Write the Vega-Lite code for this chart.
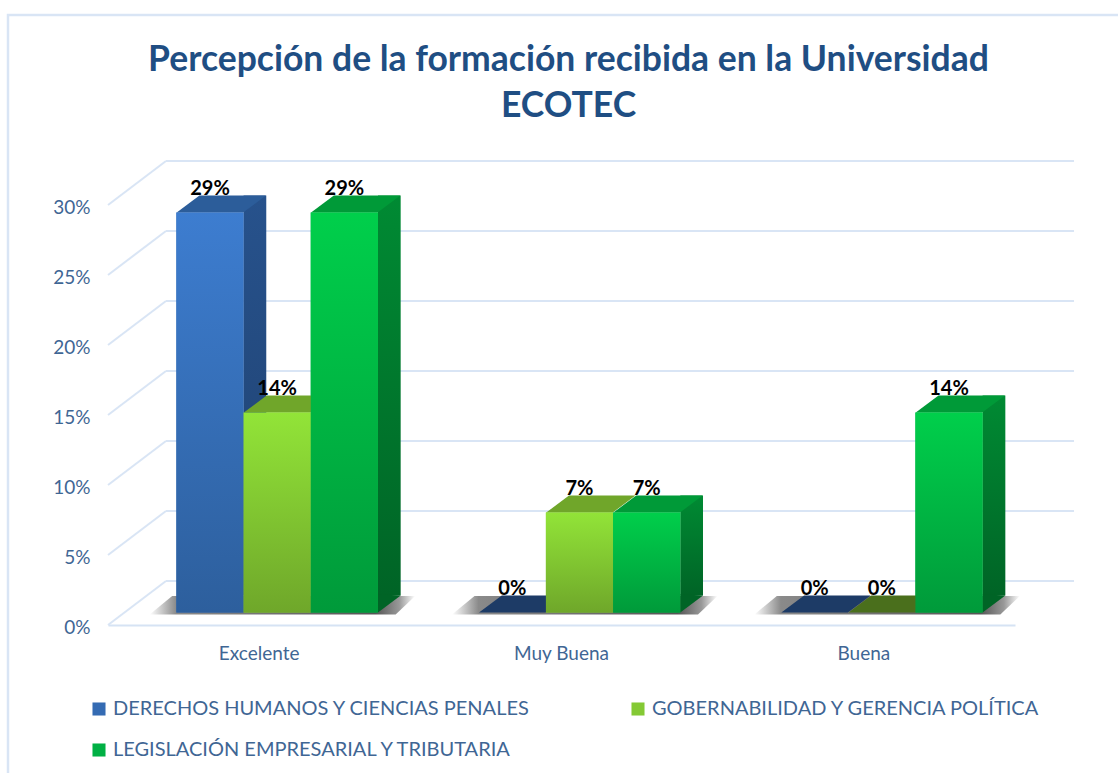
{"$schema":"https://vega.github.io/schema/vega-lite/v6.json","width":907,"height":420,"autosize":"none","padding":{"left":108,"top":205,"right":103,"bottom":148},"background":"#ffffff","view":{"stroke":null},
"title":{"text":["Percepción de la formación recibida en la Universidad","ECOTEC"],"font":"Lato","fontSize":35.5,"fontWeight":"bold","color":"#1f4e83","lineHeight":46,"anchor":"middle","frame":"group","dx":7,"offset":-114},
"datasets":{"bars":[
{"cat":"Excelente","serie":"DERECHOS HUMANOS Y CIENCIAS PENALES","v":0.2857},
{"cat":"Excelente","serie":"GOBERNABILIDAD Y GERENCIA POLÍTICA","v":0.1429},
{"cat":"Excelente","serie":"LEGISLACIÓN EMPRESARIAL Y TRIBUTARIA","v":0.2857},
{"cat":"Muy Buena","serie":"DERECHOS HUMANOS Y CIENCIAS PENALES","v":0},
{"cat":"Muy Buena","serie":"GOBERNABILIDAD Y GERENCIA POLÍTICA","v":0.0714},
{"cat":"Muy Buena","serie":"LEGISLACIÓN EMPRESARIAL Y TRIBUTARIA","v":0.0714},
{"cat":"Buena","serie":"DERECHOS HUMANOS Y CIENCIAS PENALES","v":0},
{"cat":"Buena","serie":"GOBERNABILIDAD Y GERENCIA POLÍTICA","v":0},
{"cat":"Buena","serie":"LEGISLACIÓN EMPRESARIAL Y TRIBUTARIA","v":0.1429}],
"grid":[{"t":0},{"t":0.05},{"t":0.1},{"t":0.15},{"t":0.2},{"t":0.25},{"t":0.3}]},
"data":{"name":"bars"},
"encoding":{
"x":{"field":"cat","type":"nominal","sort":null,"scale":{"domain":["Excelente","Muy Buena","Buena"],"paddingInner":0,"paddingOuter":0},"axis":{"title":null,"labelAngle":0,"labelFont":"Lato","labelFontSize":19,"labelColor":"#3f6694","labelPadding":19,"ticks":false,"domainColor":"#d6e3f4","domainWidth":2,"zindex":0}}
},
"layer":[
{"data":{"name":"grid"},"mark":{"type":"point","shape":"M0,0L1,0","size":3297856,"xOffset":58,"yOffset":-44,"stroke":"#d9e5f5","strokeWidth":2,"opacity":1},"encoding":{"x":{"datum":"Excelente","bandPosition":0},"y":{"field":"t","type":"quantitative","scale":{"domain":[0,0.3]},"axis":{"title":null,"format":".0%","values":[0,0.05,0.1,0.15,0.2,0.25,0.3],"domain":false,"ticks":false,"grid":false,"labelFont":"Lato","labelFontSize":19,"labelColor":"#3f6694","labelPadding":18,"labelOffset":2}}}},
{"data":{"name":"grid"},"mark":{"type":"point","shape":"M0,0L1,-0.7586","size":13456,"stroke":"#d9e5f5","strokeWidth":2,"opacity":1},"encoding":{"x":{"datum":"Excelente","bandPosition":0},"y":{"field":"t","type":"quantitative"}}},
{"data":{"name":"grid"},"transform":[{"filter":"datum.t==0.3"}],"mark":{"type":"point","shape":"M1.01,-0.19L-0.1,-0.19L-0.1,0.6","size":4000000,"stroke":"#d9e5f5","strokeWidth":2.5,"opacity":1},"encoding":{"x":{"datum":"Excelente","bandPosition":0},"y":{"field":"t","type":"quantitative"}}},
{"transform":[{"filter":"datum.serie[0]=='D'"}],"mark":{"type":"point","filled":true,"shape":"M-0.85,0.013L-0.7,-0.11L0.92,-0.11L0.79,0.013Z","size":90000,"xOffset":18,"yOffset":-12.5,"opacity":1,"fill":{"gradient":"linear","x1":0,"y1":0,"x2":1,"y2":0,"stops":[{"offset":0,"color":"#ffffff"},{"offset":0.1,"color":"#8a8a8a"},{"offset":0.85,"color":"#555555"},{"offset":0.94,"color":"#999999"},{"offset":1,"color":"#ffffff"}]}},"encoding":{"y":{"datum":0,"type":"quantitative"}}},
{"mark":{"type":"bar","yOffset":-12.5,"y2Offset":-12.5},"encoding":{"xOffset":{"field":"serie","type":"nominal","sort":null,"scale":{"domain":["DERECHOS HUMANOS Y CIENCIAS PENALES","GOBERNABILIDAD Y GERENCIA POLÍTICA","LEGISLACIÓN EMPRESARIAL Y TRIBUTARIA"],"paddingInner":0,"paddingOuter":0.75,"range":[18,320.3]}},"y":{"field":"v","type":"quantitative","stack":null},"y2":{"datum":0},"color":{"field":"serie","type":"nominal","sort":null,"scale":{"domain":["DERECHOS HUMANOS Y CIENCIAS PENALES","GOBERNABILIDAD Y GERENCIA POLÍTICA","LEGISLACIÓN EMPRESARIAL Y TRIBUTARIA"],"range":["#346bb3","#84c934","#00b044"]},"legend":{"title":null,"orient":"none","legendX":-19,"legendY":494,"direction":"horizontal","columns":2,"symbolType":"square","symbolSize":170,"symbolStrokeWidth":0,"labelFont":"Lato","labelFontSize":20,"labelColor":"#3f6694","labelLimit":600,"columnPadding":97,"rowPadding":21,"labelOffset":4}}}},

{"transform":[{"filter":"datum.serie[0]=='D' && datum.v>0"}],"mark":{"type":"bar","width":22.7,"xOffset":-4.25,"yOffset":-29.5,"y2Offset":-29.5,"fill":{"gradient":"linear","x1":0,"y1":0,"x2":0,"y2":1,"stops":[{"offset":0,"color":"#27528c"},{"offset":1,"color":"#1f4170"}]}},"encoding":{"y":{"field":"v","type":"quantitative","stack":null},"y2":{"datum":0}}},
{"transform":[{"filter":"datum.serie[0]=='D'"}],"mark":{"type":"point","filled":true,"opacity":1,"shape":"M-1,0.191L-0.4899,-0.191L1,-0.191L0.4899,0.191Z","size":7968,"xOffset":-37.85,"yOffset":-21},"encoding":{"y":{"field":"v","type":"quantitative"},"fill":{"condition":{"test":"datum.v==0","value":"#1d3b66"},"value":"#2c5d9a"}}},
{"transform":[{"filter":"datum.serie[0]=='D'"}],"mark":{"type":"bar","width":67.2,"xOffset":-49.2,"yOffset":-12.5,"y2Offset":-12.5,"fill":{"gradient":"linear","x1":0,"y1":0,"x2":0,"y2":1,"stops":[{"offset":0,"color":"#3d7dd0"},{"offset":1,"color":"#2d5f9d"}]}},"encoding":{"y":{"field":"v","type":"quantitative","stack":null},"y2":{"datum":0}}},

{"transform":[{"filter":"datum.serie[0]=='G'"}],"mark":{"type":"point","filled":true,"opacity":1,"shape":"M-1,0.191L-0.4899,-0.191L1,-0.191L0.4899,0.191Z","size":7968,"xOffset":29.35,"yOffset":-21},"encoding":{"y":{"field":"v","type":"quantitative"},"fill":{"condition":{"test":"datum.v==0","value":"#4a6f1c"},"value":"#70a62a"}}},
{"transform":[{"filter":"datum.serie[0]=='G'"}],"mark":{"type":"bar","width":67.2,"xOffset":18,"yOffset":-12.5,"y2Offset":-12.5,"fill":{"gradient":"linear","x1":0,"y1":0,"x2":0,"y2":1,"stops":[{"offset":0,"color":"#92e438"},{"offset":1,"color":"#6fa72a"}]}},"encoding":{"y":{"field":"v","type":"quantitative","stack":null},"y2":{"datum":0}}},

{"transform":[{"filter":"datum.serie[0]=='L' && datum.v>0"}],"mark":{"type":"bar","width":22.7,"xOffset":130.15,"yOffset":-29.5,"y2Offset":-29.5,"fill":{"gradient":"linear","x1":0,"y1":0,"x2":0,"y2":1,"stops":[{"offset":0,"color":"#008a33"},{"offset":1,"color":"#006426"}]}},"encoding":{"y":{"field":"v","type":"quantitative","stack":null},"y2":{"datum":0}}},
{"transform":[{"filter":"datum.serie[0]=='L' && datum.v>0"}],"mark":{"type":"point","filled":true,"opacity":1,"shape":"M0,0L1,-0.75L0,-0.8Z","size":2061,"xOffset":118.8,"yOffset":-12.5,"fill":"#006426"},"encoding":{"y":{"datum":0,"type":"quantitative"}}},
{"transform":[{"filter":"datum.serie[0]=='L'"}],"mark":{"type":"point","filled":true,"opacity":1,"shape":"M-1,0.191L-0.4899,-0.191L1,-0.191L0.4899,0.191Z","size":7968,"xOffset":96.55,"yOffset":-21,"fill":"#009a38"},"encoding":{"y":{"field":"v","type":"quantitative"}}},
{"transform":[{"filter":"datum.serie[0]=='L'"}],"mark":{"type":"bar","width":67.2,"xOffset":85.2,"yOffset":-12.5,"y2Offset":-12.5,"fill":{"gradient":"linear","x1":0,"y1":0,"x2":0,"y2":1,"stops":[{"offset":0,"color":"#00cf4b"},{"offset":1,"color":"#009a3a"}]}},"encoding":{"y":{"field":"v","type":"quantitative","stack":null},"y2":{"datum":0}}},

{"mark":{"type":"text","font":"Lato","fontSize":20,"fontWeight":"bold","color":"#000000","yOffset":-36},"encoding":{"xOffset":{"field":"serie","type":"nominal","sort":null},"y":{"field":"v","type":"quantitative"},"text":{"field":"v","type":"quantitative","format":".0%"}}}
]}
